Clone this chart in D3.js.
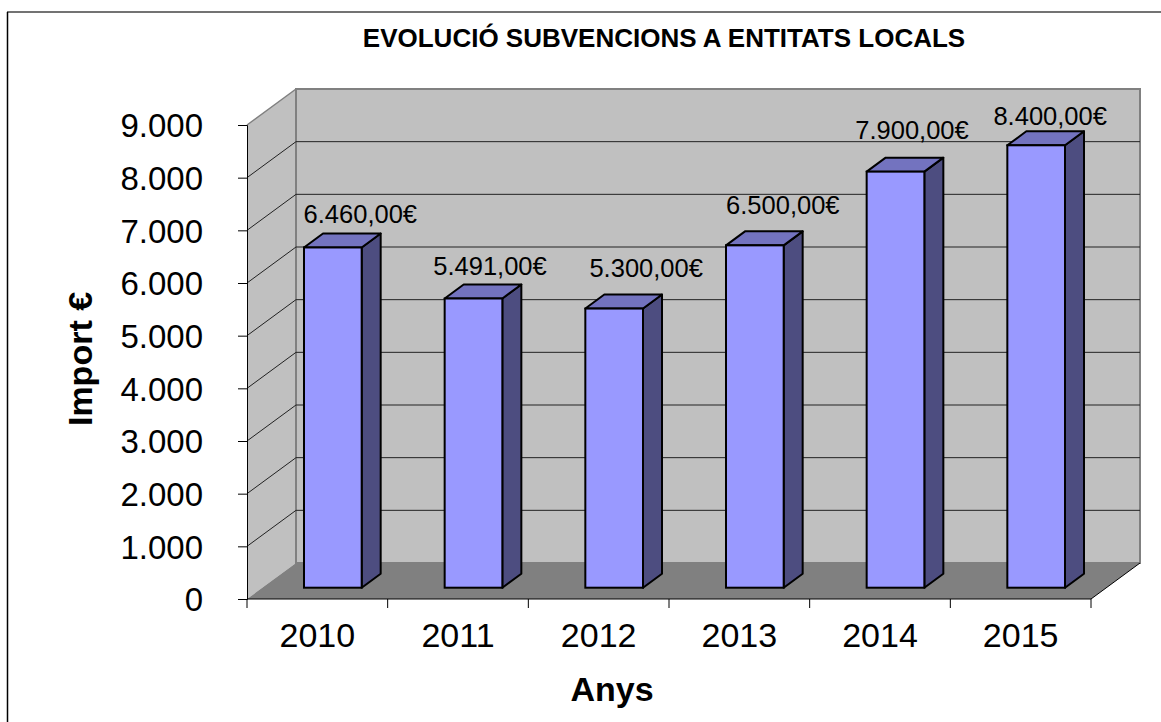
<!DOCTYPE html>
<html>
<head>
<meta charset="utf-8">
<script src="https://cdn.jsdelivr.net/npm/d3@7"></script>
<style>
  html, body { margin: 0; padding: 0; background: #fff; }
  svg { display: block; }
  text { font-family: "Liberation Sans", Arial, sans-serif; fill: #000; }
</style>
</head>
<body>
<svg id="chart"></svg>
<script>
// chart data
const anys = ["2010", "2011", "2012", "2013", "2014", "2015"];
const imports = [6460, 5491, 5300, 6500, 7900, 8400];
const etiquetes = ["6.460,00€", "5.491,00€", "5.300,00€", "6.500,00€", "7.900,00€", "8.400,00€"];
const ticksY = [0, 1000, 2000, 3000, 4000, 5000, 6000, 7000, 8000, 9000];

// the labels were dragged by hand in the original, so each has its own offset
const etiquetaDx = [27.5, 16.5, 32, 28, 16.5, 14];
const etiquetaDy = [1, 2, -6, -6, -7, 5];

const W = 1161, H = 722;
const svg = d3.select("#chart").attr("width", W).attr("height", H);

// front plane of the 3d box
const plotL = 247, plotR = 1091, plotB = 599, plotT = 125;
// how far the back wall is shifted
const depth = { x: 49, y: -36 };
// bars sit part of the way into the box
const barBase = { x: 15.5, y: -11.3 };
const barDepth = { x: 19, y: -14 };

const x = d3.scaleBand().domain(anys).range([plotL, plotR]).paddingInner(0.59).paddingOuter(0.295);
const y = d3.scaleLinear().domain([0, 9000]).range([plotB, plotT]);

const fmt = d3.formatLocale({ decimal: ",", thousands: ".", grouping: [3], currency: ["", "€"] }).format(",d");

const poly = pts => pts.map(p => p.join(",")).join(" ");

// frame, only top and left survive in the original crop
svg.append("line").attr("x1", 7).attr("x2", W).attr("y1", 12).attr("y2", 12).attr("stroke", "#444").attr("stroke-width", 1.5);
svg.append("line").attr("x1", 7.5).attr("x2", 7.5).attr("y1", 12).attr("y2", H).attr("stroke", "#000").attr("stroke-width", 1.5);

// walls
svg.append("polygon")
  .attr("points", poly([[plotL, plotB], [plotL + depth.x, plotB + depth.y], [plotL + depth.x, plotT + depth.y], [plotL, plotT]]))
  .attr("fill", "#c0c0c0");
svg.append("rect")
  .attr("x", plotL + depth.x).attr("y", plotT + depth.y)
  .attr("width", plotR - plotL).attr("height", plotB - plotT)
  .attr("fill", "#c0c0c0").attr("stroke", "#808080").attr("stroke-width", 2);
svg.append("polygon")
  .attr("points", poly([[plotL, plotB], [plotR, plotB], [plotR + depth.x, plotB + depth.y], [plotL + depth.x, plotB + depth.y]]))
  .attr("fill", "#808080");
svg.append("line")
  .attr("x1", plotL).attr("y1", plotT).attr("x2", plotL + depth.x).attr("y2", plotT + depth.y)
  .attr("stroke", "#808080").attr("stroke-width", 1.5);

// gridlines
ticksY.filter(d => d > 0 && d < 9000).forEach(d => {
  svg.append("polyline")
    .attr("points", poly([[plotL, y(d)], [plotL + depth.x, y(d) + depth.y], [plotR + depth.x, y(d) + depth.y]]))
    .attr("fill", "none").attr("stroke", "#222").attr("stroke-width", 1);
});

// floor front edges
svg.append("polyline")
  .attr("points", poly([[plotL, plotB], [plotR, plotB], [plotR + depth.x, plotB + depth.y]]))
  .attr("fill", "none").attr("stroke", "#000").attr("stroke-width", 1);

// bars
const bars = svg.append("g").selectAll("g").data(anys).join("g");
bars.each(function (d, i) {
  const g = d3.select(this);
  const x0 = x(d) + barBase.x, x1 = x0 + x.bandwidth();
  const yb = plotB + barBase.y, yt = y(imports[i]) + barBase.y;
  const st = { stroke: "#000", w: 2 };
  g.append("polygon")
    .attr("points", poly([[x1, yb], [x1 + barDepth.x, yb + barDepth.y], [x1 + barDepth.x, yt + barDepth.y], [x1, yt]]))
    .attr("fill", "#4d4d80").attr("stroke", st.stroke).attr("stroke-width", st.w).attr("stroke-linejoin", "round");
  g.append("polygon")
    .attr("points", poly([[x0, yt], [x1, yt], [x1 + barDepth.x, yt + barDepth.y], [x0 + barDepth.x, yt + barDepth.y]]))
    .attr("fill", "#7373bf").attr("stroke", st.stroke).attr("stroke-width", st.w).attr("stroke-linejoin", "round");
  g.append("rect")
    .attr("x", x0).attr("y", yt).attr("width", x1 - x0).attr("height", yb - yt)
    .attr("fill", "#9999ff").attr("stroke", st.stroke).attr("stroke-width", st.w);
});

// value labels
svg.append("g").selectAll("text").data(anys).join("text")
  .attr("x", (d, i) => x(d) + barBase.x + x.bandwidth() / 2 + etiquetaDx[i])
  .attr("y", (d, i) => y(imports[i]) - 37 + etiquetaDy[i])
  .attr("text-anchor", "middle")
  .attr("font-size", 25.5)
  .text((d, i) => etiquetes[i]);

// axes
const yAxis = d3.axisLeft(y).tickValues(ticksY).tickFormat(fmt).tickSize(9).tickPadding(35);
const gy = svg.append("g").attr("transform", `translate(${plotL},0)`).call(yAxis);
const xAxis = d3.axisBottom(x).tickSize(0).tickPadding(23.5);
const gx = svg.append("g").attr("transform", `translate(0,${plotB})`).call(xAxis);
gx.select(".domain").remove();
gy.selectAll("text").attr("font-size", 33).attr("dy", "0.36em");
gx.selectAll("text").attr("font-size", 34);
gy.selectAll("line, path").attr("stroke", "#000");
svg.selectAll("g[font-family]").attr("font-family", null);

// category separators
svg.append("g").selectAll("line").data(d3.range(anys.length + 1)).join("line")
  .attr("x1", i => plotL + i * x.step()).attr("x2", i => plotL + i * x.step())
  .attr("y1", plotB).attr("y2", plotB + 9)
  .attr("stroke", "#000");

// titles
svg.append("text").attr("x", 664).attr("y", 47).attr("text-anchor", "middle")
  .attr("font-size", 26).attr("font-weight", "bold").text("EVOLUCIÓ SUBVENCIONS A ENTITATS LOCALS");
svg.append("text").attr("x", 612).attr("y", 701).attr("text-anchor", "middle")
  .attr("font-size", 34).attr("font-weight", "bold").text("Anys");
svg.append("text").attr("transform", "translate(92,359) rotate(-90)").attr("text-anchor", "middle")
  .attr("font-size", 34).attr("font-weight", "bold").text("Import €");
</script>
</body>
</html>
